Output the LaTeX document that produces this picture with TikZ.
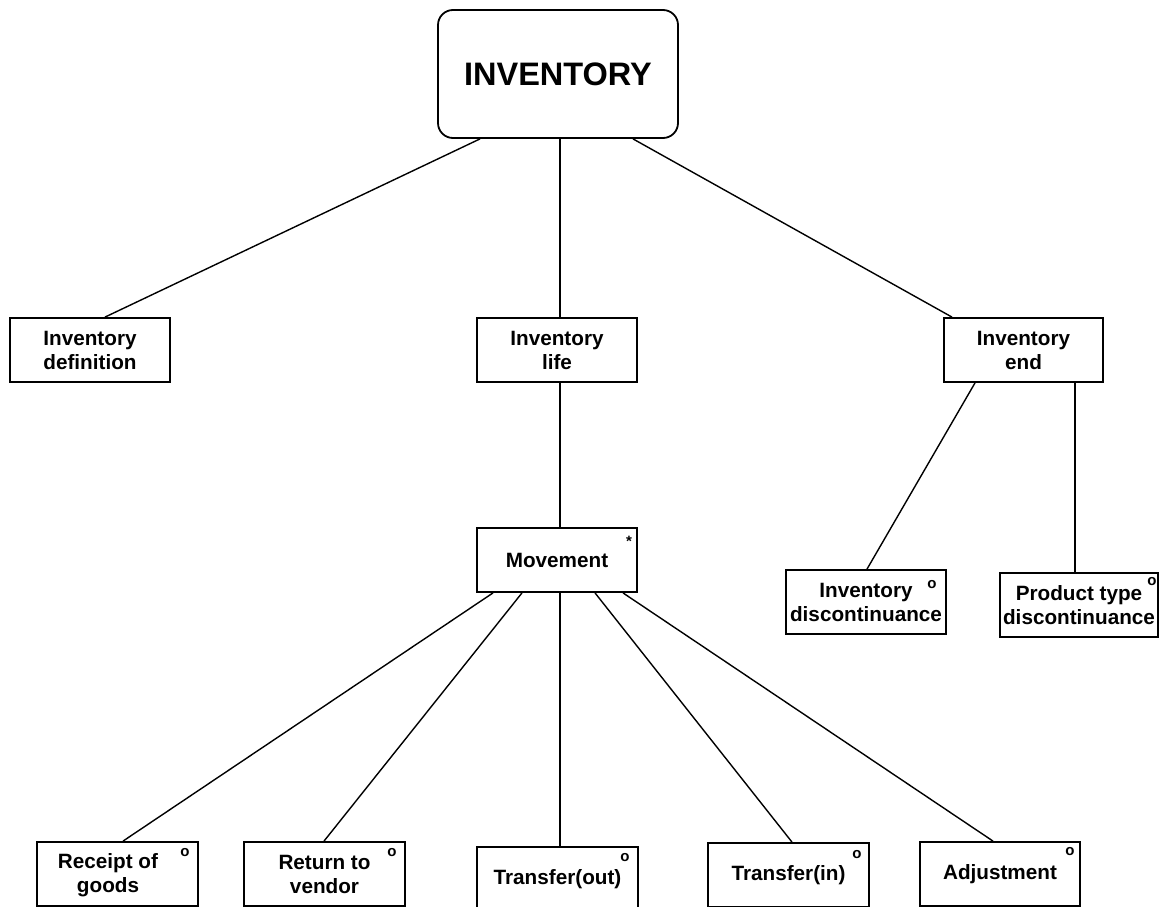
\documentclass[tikz,border=0pt]{standalone}
\usepackage{fontspec}
\setmainfont{Liberation Sans}
\begin{document}
\begin{tikzpicture}[x=1pt,y=-1pt,
  box/.style={draw,line width=1.8pt,rectangle,inner sep=0pt,align=center,
    font=\bfseries\fontsize{20.7}{24}\selectfont},
  txt/.style={inner sep=0pt,align=center,font=\bfseries\fontsize{20.7}{24}\selectfont},
  conn/.style={line width=1.4pt},
  tagmark/.style={inner sep=0pt,font=\bfseries\fontsize{15}{15}\selectfont}]
\useasboundingbox (0,0) rectangle (1165,907);
% boxes
\node[box,rounded corners=15pt,minimum width=240pt,minimum height=128pt,
  font=\bfseries\fontsize{32.5}{36}\selectfont] (inv) at (558,74) {INVENTORY};
\node[box,minimum width=160pt,minimum height=64pt] (def) at (90,350) {Inventory\\definition};
\node[box,minimum width=160pt,minimum height=64pt] (life) at (557,350) {Inventory\\life};
\node[box,minimum width=159pt,minimum height=64pt] (end) at (1023.5,350) {Inventory\\end};
\node[box,minimum width=160pt,minimum height=64pt] (mov) at (557,560) {Movement};
\node[box,minimum width=160pt,minimum height=64pt] (idisc) at (866,602) {Inventory\\discontinuance};
\node[box,minimum width=158pt,minimum height=64pt] (pdisc) at (1079,605) {Product type\\discontinuance};
\node[box,minimum width=161pt,minimum height=64pt] (rec) at (117.5,874) {};
\node[txt] (rectxt) at (108,875) {Receipt of\\goods};
\node[box,minimum width=161pt,minimum height=64pt] (ret) at (324.5,874) {Return to\\vendor};
\node[box,minimum width=161pt,minimum height=64pt] (tout) at (557.5,879) {Transfer(out)};
\node[box,minimum width=161pt,minimum height=64pt] (tin) at (788.5,875) {Transfer(in)};
\node[box,minimum width=160pt,minimum height=64pt] (adj) at (1000,874) {Adjustment};
% markers
\node[tagmark] (movm) at (629,541) {*};
\node[tagmark] (idiscm) at (932,585) {o};
\node[tagmark] (pdiscm) at (1152,582) {o};
\node[tagmark] (recm) at (185,853) {o};
\node[tagmark] (retm) at (392,853) {o};
\node[tagmark] (toutm) at (625,858) {o};
\node[tagmark] (tinm) at (857,855) {o};
\node[tagmark] (adjm) at (1070,852) {o};
% connectors
\draw[conn] ([xshift=-78pt]inv.south) -- ([xshift=15pt]def.north);
\draw[conn] ([xshift=2pt]inv.south) -- ([xshift=3pt]life.north);
\draw[conn] ([xshift=75pt]inv.south) -- ([xshift=-71.5pt]end.north);
\draw[conn] ([xshift=3pt]life.south) -- ([xshift=3pt]mov.north);
\draw[conn] ([xshift=-48.5pt]end.south) -- ([xshift=1pt]idisc.north);
\draw[conn] ([xshift=51.5pt]end.south) -- ([xshift=-4pt]pdisc.north);
\draw[conn] ([xshift=-64pt]mov.south) -- ([xshift=5.5pt]rec.north);
\draw[conn] ([xshift=-35pt]mov.south) -- ([xshift=-0.5pt]ret.north);
\draw[conn] ([xshift=3pt]mov.south) -- ([xshift=2.5pt]tout.north);
\draw[conn] ([xshift=38pt]mov.south) -- ([xshift=3.5pt]tin.north);
\draw[conn] ([xshift=66pt]mov.south) -- ([xshift=-7pt]adj.north);
\end{tikzpicture}
\end{document}
